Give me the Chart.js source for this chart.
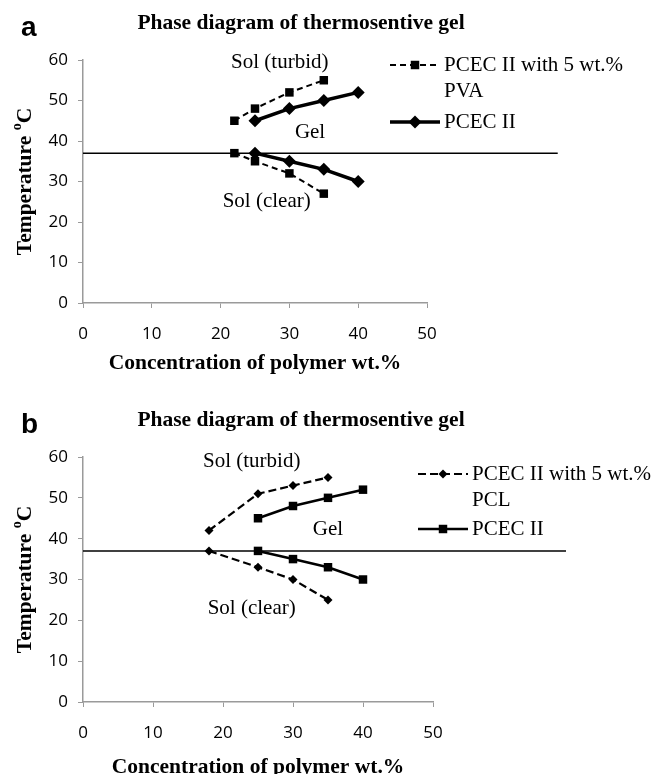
<!DOCTYPE html>
<html>
<head>
<meta charset="utf-8">
<script src="https://cdn.jsdelivr.net/npm/chart.js@4.4.1/dist/chart.umd.min.js"></script>
<style>
  html, body { margin: 0; padding: 0; background: #fff; }
  .panel { position: relative; width: 658px; height: 387px; }
  canvas { display: block; }
</style>
</head>
<body>
<div class="panel"><canvas id="chartA" width="658" height="387"></canvas></div>
<div class="panel"><canvas id="chartB" width="658" height="387"></canvas></div>
<script>
// Dados
const xTicks = [0, 10, 20, 30, 40, 50];
const yTicks = [0, 10, 20, 30, 40, 50, 60];
const bodyTemp = 37;
const refLineX = [0, 69];

// Painel a
const concA_pva = [22, 25, 30, 35];
const upperA_pva = [45, 48, 52, 55];
const lowerA_pva = [37, 35, 32, 27];
const concA_pcec = [25, 30, 35, 40];
const upperA_pcec = [45, 48, 50, 52];
const lowerA_pcec = [37, 35, 33, 30];

// Painel b
const concB_pcl = [18, 25, 30, 35];
const upperB_pcl = [42, 51, 53, 55];
const lowerB_pcl = [37, 33, 30, 25];
const concB_pcec = [25, 30, 35, 40];
const upperB_pcec = [45, 48, 50, 52];
const lowerB_pcec = [37, 35, 33, 30];

const titleText = 'Phase diagram of thermosentive gel';
const xTitle = 'Concentration of polymer wt.%';

const serif = '"Liberation Serif", "Times New Roman", serif';
const tickFont = '"Open Sans", sans-serif';

function pts(xs, ys) {
    return xs.map((x, i) => ({ x: x, y: ys[i] }));
}

function seriesSet(style, xs, up, low) {
    const base = {
        borderColor: '#000',
        backgroundColor: '#000',
        borderWidth: style.width,
        borderDash: style.dash,
        pointStyle: style.point,
        pointRadius: style.radius,
        pointHoverRadius: style.radius,
        pointBorderWidth: 0,
        tension: 0,
        fill: false
    };
    return [
        Object.assign({ data: pts(xs, up) }, base),
        Object.assign({ data: pts(xs, low) }, base)
    ];
}

// Plugin para textos, legenda e título
const decorPlugin = {
    id: 'decor',
    afterDraw(chart, args, opts) {
        const c = chart.ctx;
        const ca = chart.chartArea;
        const xs = chart.scales.x, ys = chart.scales.y;
        c.save();
        c.fillStyle = '#000';
        c.textBaseline = 'middle';

        // letra do painel
        c.font = 'bold 28px "Liberation Sans", Arial, sans-serif';
        c.textAlign = 'left';
        c.fillText(opts.letter, 21, opts.titleY + 5);

        // título
        c.font = 'bold 21.5px ' + serif;
        c.textAlign = 'center';
        c.fillText(titleText, 301, opts.titleY);

        // título do eixo x
        c.fillText(xTitle, (ca.left + ca.right) / 2, opts.xTitleY);

        // título do eixo y (com "o" sobrescrito)
        c.save();
        c.translate(25, (ca.top + ca.bottom) / 2);
        c.rotate(-Math.PI / 2);
        c.font = 'bold 21.5px ' + serif;
        const t1 = 'Temperature ';
        const w1 = c.measureText(t1).width;
        c.font = 'bold 14px ' + serif;
        const w2 = c.measureText('o').width;
        c.font = 'bold 21.5px ' + serif;
        const w3 = c.measureText('C').width;
        let x0 = -(w1 + w2 + w3) / 2;
        c.textAlign = 'left';
        c.fillText(t1, x0, 0);
        c.font = 'bold 14px ' + serif;
        c.fillText('o', x0 + w1, -8);
        c.font = 'bold 21.5px ' + serif;
        c.fillText('C', x0 + w1 + w2, 0);
        c.restore();

        // anotações das regiões
        c.font = '21px ' + serif;
        c.textAlign = 'center';
        opts.notes.forEach(n => {
            c.fillText(n.text, xs.getPixelForValue(n.x), ys.getPixelForValue(n.y));
        });

        // legenda
        opts.legend.forEach(item => {
            const ds = chart.data.datasets[item.ds];
            c.save();
            c.strokeStyle = '#000';
            c.lineWidth = ds.borderWidth;
            c.setLineDash(ds.borderDash || []);
            c.beginPath();
            c.moveTo(item.x, item.y);
            c.lineTo(item.x + 50, item.y);
            c.stroke();
            c.restore();
            Chart.helpers.drawPoint(c, {
                pointStyle: ds.pointStyle,
                radius: ds.pointRadius,
                borderWidth: 0
            }, item.x + 25, item.y);
            c.fillStyle = '#000';
            c.font = '21px ' + serif;
            c.textAlign = 'left';
            item.lines.forEach((ln, i) => {
                c.fillText(ln, item.x + 54, item.y + i * 26);
            });
        });
        c.restore();
    }
};

function makeChart(id, sets, cfg) {
    const refLine = {
        data: pts(refLineX, [bodyTemp, bodyTemp]),
        borderColor: '#000',
        borderWidth: 1.5,
        pointRadius: 0,
        clip: false
    };
    return new Chart(document.getElementById(id), {
        type: 'line',
        data: { datasets: sets.concat([refLine]) },
        options: {
            responsive: false,
            animation: false,
            layout: { padding: { top: cfg.top, right: cfg.right, left: 0, bottom: 0 } },
            plugins: {
                legend: { display: false },
                tooltip: { enabled: false },
                decor: cfg.decor
            },
            scales: {
                x: {
                    type: 'linear',
                    min: 0, max: 50,
                    afterBuildTicks: s => { s.ticks = xTicks.map(v => ({ value: v })); },
                    afterFit: s => { s.height = cfg.xHeight; },
                    grid: { drawOnChartArea: false, drawTicks: true, tickLength: 5, color: '#9a9a9a' },
                    border: { color: '#9a9a9a', width: 1.5 },
                    ticks: { color: '#000', font: { family: tickFont, size: 17 }, padding: 16 }
                },
                y: {
                    type: 'linear',
                    min: 0, max: 60,
                    afterBuildTicks: s => { s.ticks = yTicks.map(v => ({ value: v })); },
                    afterFit: s => { s.width = 83; },
                    grid: { drawOnChartArea: false, drawTicks: true, tickLength: 5, color: '#9a9a9a' },
                    border: { color: '#9a9a9a', width: 1.5 },
                    ticks: { color: '#000', font: { family: tickFont, size: 17 }, padding: 10 }
                }
            }
        },
        plugins: [decorPlugin]
    });
}

const dashedSq = { width: 2, dash: [6, 4], point: 'rect', radius: 6 };
const solidDia = { width: 3.5, dash: [], point: 'rectRot', radius: 6.5 };
const dashedDia = { width: 2.2, dash: [8, 4], point: 'rectRot', radius: 4.5 };
const solidSq = { width: 2.5, dash: [], point: 'rect', radius: 6 };

makeChart('chartA',
    seriesSet(dashedSq, concA_pva, upperA_pva, lowerA_pva)
        .concat(seriesSet(solidDia, concA_pcec, upperA_pcec, lowerA_pcec)),
    {
        top: 60, right: 231, xHeight: 84,
        decor: {
            letter: 'a', titleY: 23, xTitleY: 363,
            notes: [
                { text: 'Sol (turbid)', x: 28.6, y: 59.3 },
                { text: 'Gel', x: 33, y: 42 },
                { text: 'Sol (clear)', x: 26.7, y: 25 }
            ],
            legend: [
                { ds: 0, x: 390, y: 65, lines: ['PCEC II with 5 wt.%', 'PVA'] },
                { ds: 2, x: 390, y: 122, lines: ['PCEC II'] }
            ]
        }
    });

makeChart('chartB',
    seriesSet(dashedDia, concB_pcl, upperB_pcl, lowerB_pcl)
        .concat(seriesSet(solidSq, concB_pcec, upperB_pcec, lowerB_pcec)),
    {
        top: 70, right: 225, xHeight: 72,
        decor: {
            letter: 'b', titleY: 33, xTitleY: 380,
            notes: [
                { text: 'Sol (turbid)', x: 24.1, y: 58.8 },
                { text: 'Gel', x: 35, y: 42.3 },
                { text: 'Sol (clear)', x: 24.1, y: 23 }
            ],
            legend: [
                { ds: 0, x: 418, y: 87, lines: ['PCEC II with 5 wt.%', 'PCL'] },
                { ds: 2, x: 418, y: 142, lines: ['PCEC II'] }
            ]
        }
    });
</script>
</body>
</html>
